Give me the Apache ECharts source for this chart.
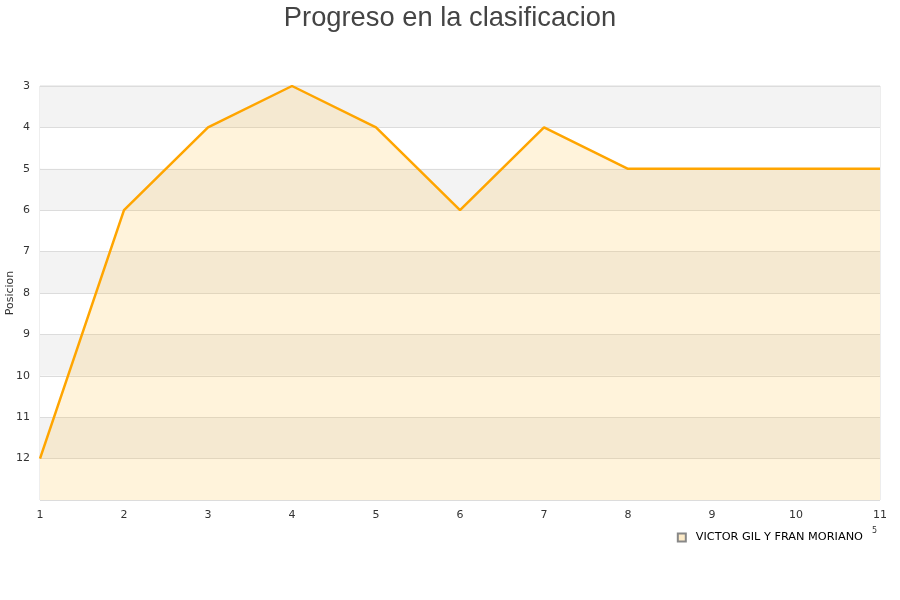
<!DOCTYPE html>
<html>
<head>
<meta charset="utf-8">
<script src="https://cdn.jsdelivr.net/npm/echarts@6/dist/echarts.min.js"></script>
<style>
	html, body { margin: 0; padding: 0; background: #fff; }
	#chart { width: 900px; height: 600px; }
</style>
</head>
<body>
<div id="chart"></div>
<script>
	"use strict";

	var jornadas = [1, 2, 3, 4, 5, 6, 7, 8, 9, 10, 11];
	var posiciones = [12, 6, 4, 3, 4, 6, 4, 5, 5, 5, 5];
	var equipo = 'VICTOR GIL Y FRAN MORIANO';

	var puntos = [];
	for (var i = 0, len = jornadas.length; i < len; i++) {
		puntos.push([jornadas[i], posiciones[i]]);
	}

	var chart = echarts.init(document.getElementById('chart')),
		option = {
			animation: false,
			title: {
				text: 'Progreso en la clasificacion',
				left: 'center',
				top: 0,
				textStyle: {
					fontFamily: 'Liberation Sans',
					fontSize: 27.3,
					fontWeight: 'normal',
					color: '#444'
				}
			},
			grid: {
				left: 40,
				right: 20,
				top: 86,
				bottom: 100,
				outerBoundsMode: 'none',
				containLabel: false,
				show: true,
				borderColor: '#dcdcdc',
				borderWidth: 1
			},
			legend: {
				data: [equipo],
				right: 32,
				top: 527,
				itemWidth: 8,
				itemHeight: 8,
				itemGap: 10,
				icon: 'rect',
				textStyle: {
					fontFamily: 'DejaVu Sans',
					fontSize: 11.3,
					color: '#000',
					padding: [0, 0, 0, 5]
				}
			},
			graphic: [{
				// titulo del eje y
				type: 'text',
				x: 10,
				y: 293,
				rotation: Math.PI / 2,
				style: {
					text: 'Posicion',
					fontSize: 11,
					fill: '#333',
					fontFamily: 'DejaVu Sans',
					align: 'center',
					verticalAlign: 'middle'
				}
			}, {
				type: 'text',
				left: 872,
				top: 527,
				style: {
					text: '5',
					fontSize: 8,
					fill: '#333',
					fontFamily: 'DejaVu Sans'
				}
			}],
			xAxis: {
				type: 'value',
				min: 1,
				max: 11,
				interval: 1,
				axisLine: {show: false},
				axisTick: {show: false},
				splitLine: {show: false},
				axisLabel: {
					color: '#333',
					fontSize: 11,
					fontFamily: 'DejaVu Sans',
					margin: 10
				}
			},
			yAxis: {
				type: 'value',
				inverse: true,
				min: 3,
				max: 13,
				interval: 1,
				axisLine: {show: false},
				axisTick: {show: false},
				axisLabel: {
					color: '#333',
					fontSize: 11,
					fontFamily: 'DejaVu Sans',
					margin: 10,
					formatter: function (v) {
						return v === 13 ? '' : v;
					}
				},
				splitLine: {
					show: true,
					lineStyle: {color: '#dcdcdc', width: 1}
				},
				splitArea: {
					show: true,
					areaStyle: {color: ['#f3f3f3', '#ffffff']}
				}
			},
			series: [{
				name: equipo,
				type: 'line',
				data: puntos,
				showSymbol: false,
				symbol: 'none',
				lineStyle: {color: '#ffa500', width: 2.5},
				itemStyle: {color: '#fdebc8', borderColor: '#888', borderWidth: 1},
				areaStyle: {
					color: 'rgba(255,185,50,0.25)',
					origin: 'end'
				}
			}]
		};

	chart.setOption(option);
</script>
</body>
</html>
